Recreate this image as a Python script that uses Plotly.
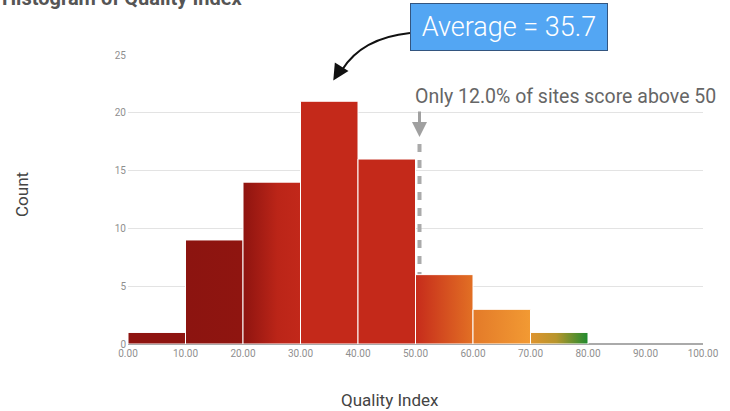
import plotly.graph_objects as go

# Histogram bins (Quality Index) and their counts
bin_edges = [0, 10, 20, 30, 40, 50, 60, 70, 80, 90, 100]
counts = [1, 9, 14, 21, 16, 6, 3, 1, 0, 0]

# left/right colours of each bar's horizontal gradient
bar_colors = [
    [[0, "#8E1410"], [1, "#8E1410"]],
    [[0, "#8C1410"], [1, "#8F1510"]],
    [[0, "#8E1410"], [0.6, "#BB2518"], [1, "#C2281A"]],
    [[0, "#C4291A"], [1, "#C4291A"]],
    [[0, "#C4291A"], [1, "#C4291A"]],
    [[0, "#C62B1B"], [1, "#E27024"]],
    [[0, "#E37A29"], [1, "#F29A33"]],
    [[0, "#DF942F"], [0.45, "#B7952C"], [1, "#1F8B2F"]],
    [[0, "#999999"], [1, "#999999"]],
    [[0, "#999999"], [1, "#999999"]],
]

x_ticks = [0, 10, 20, 30, 40, 50, 60, 70, 80, 90, 100]
y_ticks = [0, 5, 10, 15, 20, 25]

AVERAGE = 35.7
THRESHOLD = 50
SHARE_ABOVE = 12.0

W, H = 730, 411
ML, MR, MT, MB = 128, 27, 55, 67
PW, PH = W - ML - MR, H - MT - MB


def paper_x(px):
    return (px - ML) / PW


def paper_y(py):
    return (H - MB - py) / PH


fig = go.Figure()

for i, c in enumerate(counts):
    if c <= 0:
        continue
    x0, x1 = bin_edges[i], bin_edges[i + 1]
    fig.add_trace(go.Scatter(
        x=[x0, x0, x1, x1, x0],
        y=[0, c, c, 0, 0],
        mode="lines",
        fill="toself",
        fillgradient=dict(type="horizontal", colorscale=bar_colors[i]),
        line=dict(color="white", width=1),
        hoverinfo="skip",
        showlegend=False,
    ))

# dashed marker at the threshold, from the axis up towards the label
fig.add_shape(
    type="line", xref="x", yref="y",
    xsizemode="pixel", xanchor=THRESHOLD, x0=4, x1=4,
    y0=0, y1=17.4,
    line=dict(color="#aaaaaa", width=4, dash="8px,8px"),
    layer="between",
)

# downward arrow above the dashed marker
fig.add_annotation(
    x=THRESHOLD, y=17.9, xref="x", yref="y", xshift=4,
    text="", showarrow=True, ax=0, ay=-27,
    arrowhead=2, arrowsize=1, arrowwidth=3, arrowcolor="#a0a0a0",
)

fig.add_annotation(
    x=THRESHOLD, y=21.4, xref="x", yref="y", xanchor="left", yanchor="middle",
    xshift=-3,
    text=f"Only {SHARE_ABOVE:.1f}% of sites score above {THRESHOLD}",
    showarrow=False, font=dict(family="Roboto", size=19.5, color="#666666"),
)

# curved pointer from the average box down to the average value
fig.add_shape(
    type="path", xref="paper", yref="paper",
    path=(f"M {paper_x(410)},{paper_y(33)} "
          f"Q {paper_x(362)},{paper_y(38)} {paper_x(342)},{paper_y(70)}"),
    line=dict(color="#111111", width=2),
)
fig.add_annotation(
    x=AVERAGE, y=22.8, xref="x", yref="y",
    text="", showarrow=True, ax=8, ay=-13,
    arrowhead=2, arrowsize=1.6, arrowwidth=2, arrowcolor="#111111",
)

fig.add_annotation(
    x=paper_x(509), y=paper_y(27), xref="paper", yref="paper",
    xanchor="center", yanchor="middle",
    text=f"Average = {AVERAGE}", showarrow=False,
    font=dict(family="Roboto", size=27, color="white", weight=300),
    bgcolor="#53A6F3", bordercolor="#33557f", borderwidth=1,
    width=194, height=44, align="center", valign="middle",
)

fig.add_annotation(
    x=paper_x(0), y=paper_y(12), xref="paper", yref="paper",
    xanchor="left", yanchor="bottom",
    text="<b>Histogram of Quality Index</b>", showarrow=False,
    font=dict(family="Roboto", size=20, color="#555555"),
)

# axis titles
fig.add_annotation(
    x=paper_x(390), y=paper_y(400), xref="paper", yref="paper",
    xanchor="center", yanchor="middle",
    text="Quality Index", showarrow=False,
    font=dict(family="Roboto", size=17, color="#444444"),
)
fig.add_annotation(
    x=paper_x(22), y=paper_y(195), xref="paper", yref="paper",
    xanchor="center", yanchor="middle", textangle=-90,
    text="Count", showarrow=False,
    font=dict(family="Roboto", size=17, color="#444444"),
)

fig.update_layout(
    width=W, height=H,
    margin=dict(l=ML, r=MR, t=MT, b=MB),
    paper_bgcolor="white", plot_bgcolor="white",
    font=dict(family="Roboto", color="#999999"),
    xaxis=dict(
        range=[0, 100], tickvals=x_ticks, tickformat=".2f",
        showgrid=False, zeroline=False, showline=False,
        tickfont=dict(size=10, color="#8f8f8f"),
        ticklabelstandoff=2,
        automargin=False, fixedrange=True,
    ),
    yaxis=dict(
        range=[0, 25], tickvals=y_ticks,
        showgrid=True, gridcolor="#e3e3e3", gridwidth=1,
        zeroline=True, zerolinecolor="#aaaaaa", zerolinewidth=2,
        tickfont=dict(size=10, color="#8f8f8f"),
        ticklabelstandoff=1,
        automargin=False, fixedrange=True,
    ),
)

fig.write_html("out.html")
